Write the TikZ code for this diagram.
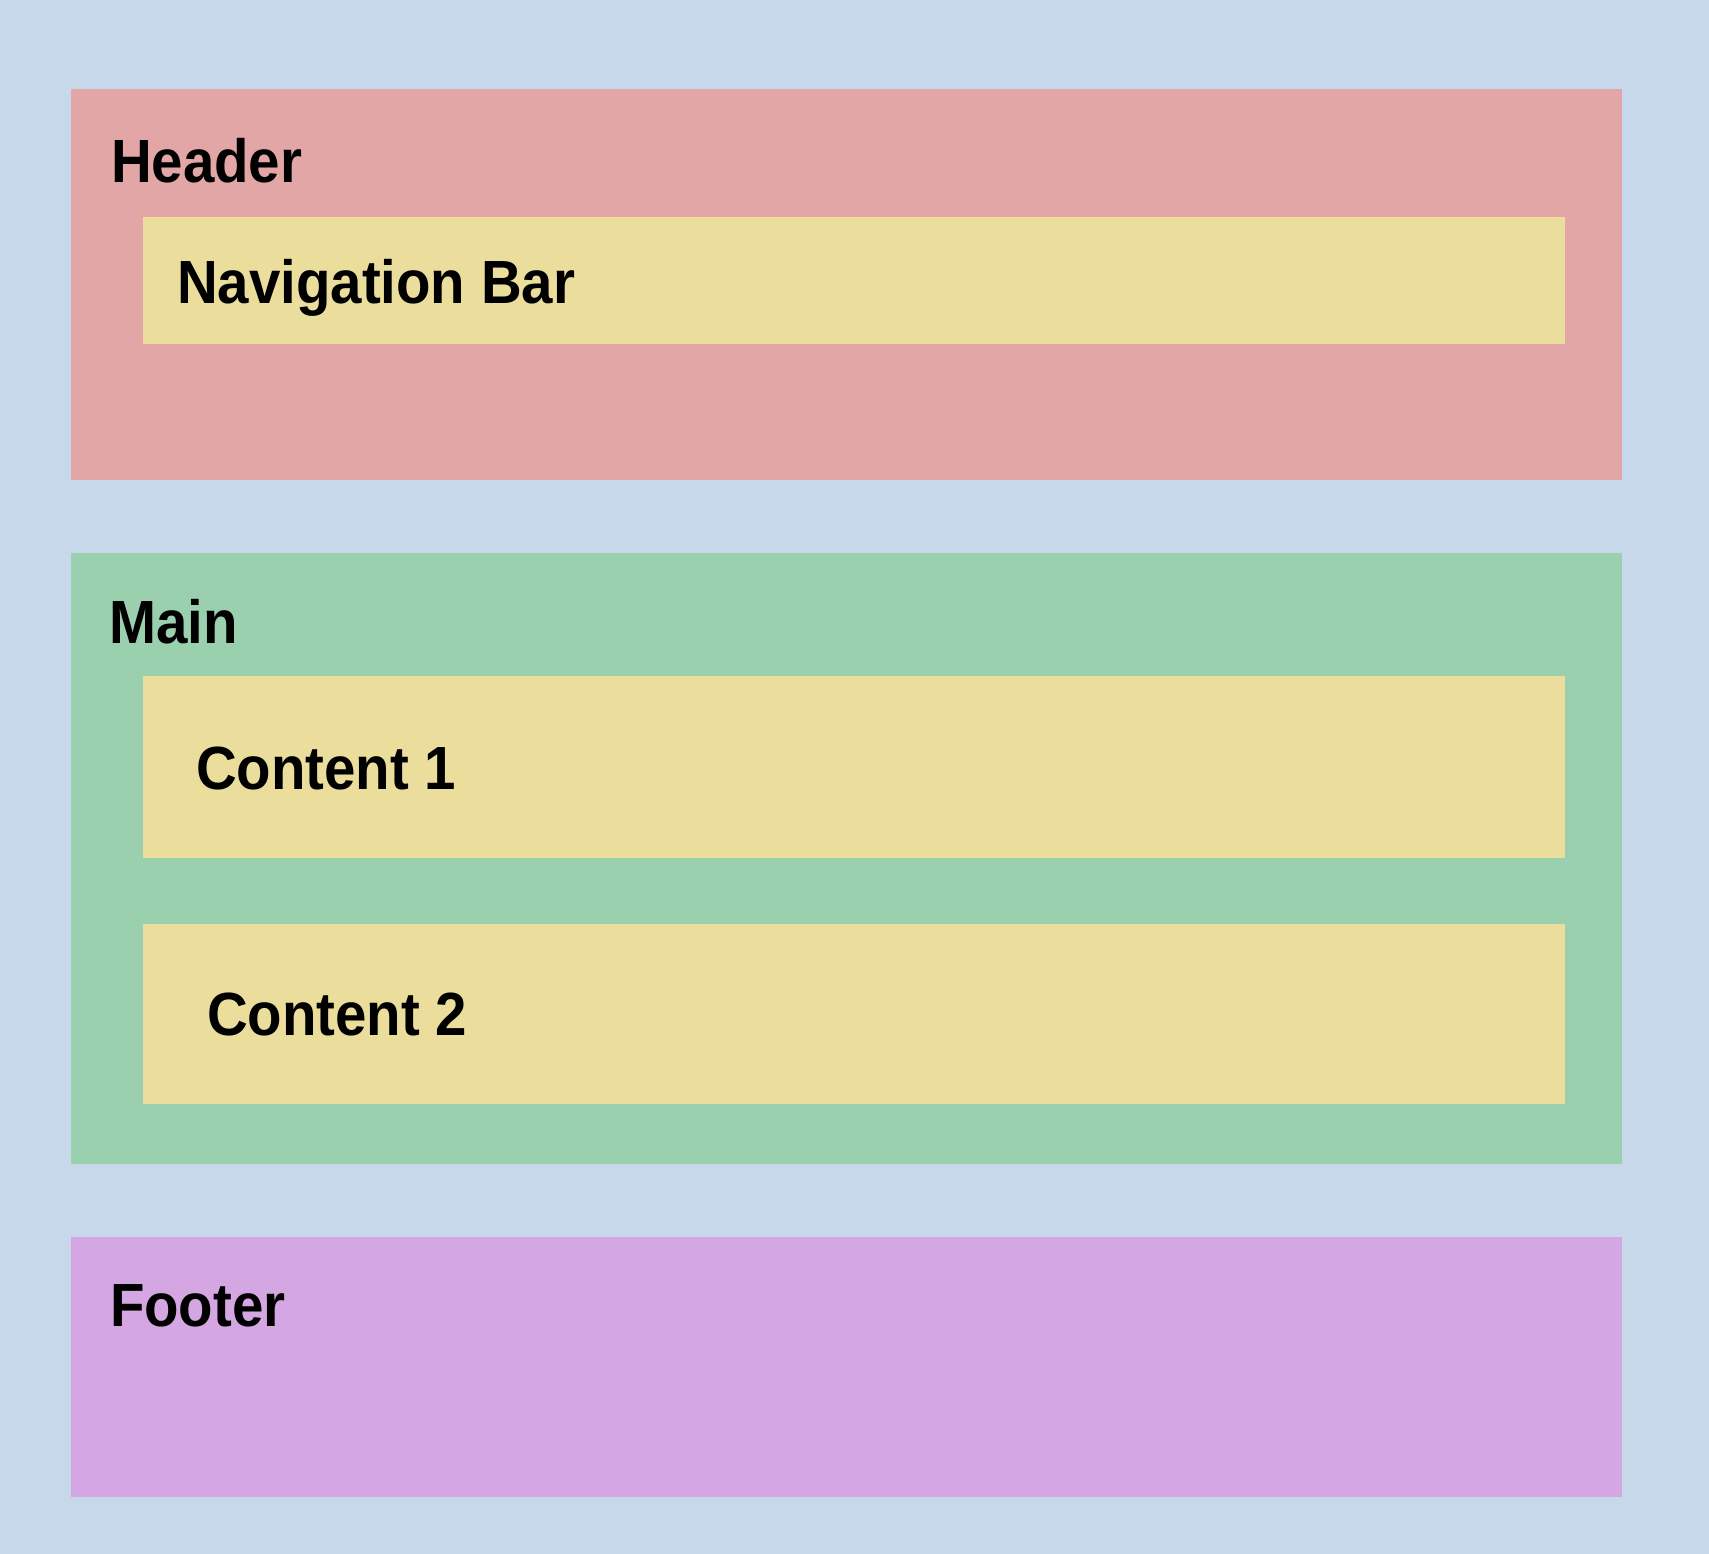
\documentclass[tikz,border=0pt]{standalone}
\usepackage{fontspec}
\setmainfont{Liberation Sans}[FakeStretch=0.925]
\definecolor{bgc}{RGB}{200,216,235}
\definecolor{hdrc}{RGB}{227,166,167}
\definecolor{yelc}{RGB}{235,221,156}
\definecolor{grnc}{RGB}{154,208,173}
\definecolor{purc}{RGB}{212,166,226}
\tikzset{
  box/.style={draw=none, inner sep=0pt, outer sep=0pt, anchor=north west, rectangle},
  lbl/.style={inner sep=0pt, outer sep=0pt, anchor=base west, font=\fontsize{61}{70}\selectfont\bfseries, text=black}
}
\begin{document}
\begin{tikzpicture}[x=1pt,y=-1pt]
\useasboundingbox (0,0) rectangle (1709,1554);
\fill[bgc] (0,0) rectangle (1709,1554);
% Header
\node[box, fill=hdrc, minimum width=1551pt, minimum height=390.4pt] (header) at (71,89.4) {};
\node[box, fill=yelc, minimum width=1422pt, minimum height=127.6pt] (nav) at (143,216.9) {};
% Main
\node[box, fill=grnc, minimum width=1551pt, minimum height=611.4pt] (main) at (71,552.7) {};
\node[box, fill=yelc, minimum width=1422pt, minimum height=182.1pt] (c1) at (143,675.7) {};
\node[box, fill=yelc, minimum width=1422pt, minimum height=179.2pt] (c2) at (143,924.3) {};
% Footer
\node[box, fill=purc, minimum width=1551pt, minimum height=259.7pt] (footer) at (71,1237) {};
% Labels
\node[lbl] (tHeader) at (111,183) {Header};
\node[lbl] (tNav) at (177,303.5) {Navigation Bar};
\node[lbl] (tMain) at (109,643) {Main};
\node[lbl] (tC1) at (196,789) {Content 1};
\node[lbl] (tC2) at (207,1035) {Content 2};
\node[lbl] (tFooter) at (110,1326) {Footer};
\end{tikzpicture}
\end{document}
